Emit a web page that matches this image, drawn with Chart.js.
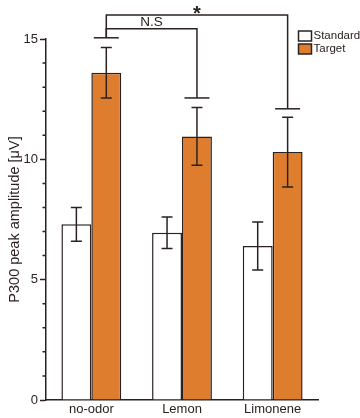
<!DOCTYPE html>
<html>
<head>
<meta charset="utf-8">
<script src="https://cdn.jsdelivr.net/npm/chart.js@4/dist/chart.umd.min.js"></script>
<style>
  html, body { margin: 0; padding: 0; background: #fff; }
  #wrap { width: 360px; height: 418px; }
</style>
</head>
<body>
<div id="wrap"><canvas id="p300Chart" width="360" height="418"></canvas></div>
<script>
// Data
const categories = ['no-odor', 'Lemon', 'Limonene'];
const standardMean = [7.3, 6.95, 6.4];
const standardErr = [0.7, 0.65, 1.0];
const targetMean = [13.6, 10.95, 10.3];
const targetErr = [1.05, 1.2, 1.45];

// significance brackets (target bars)
const capLevel = [15.05, 12.55, 12.1];
const bracketFrom = [0, 0];
const bracketTo = [1, 2];
const bracketTop = [15.43, 16.0];
const bracketLabels = ['N.S', '*'];

const yTicks = [0, 5, 10, 15];

const INK = '#2b2220';
const ORANGE = '#df7d2e';
const FONT = 'Liberation Sans, Arial, Helvetica, sans-serif';

// error bars, brackets, minor ticks, legend
const extrasPlugin = {
    id: 'extras',
    afterDatasetsDraw(chart) {
        const ctx = chart.ctx;
        const y = chart.scales.y;
        const errs = [standardErr, targetErr];
        const means = [standardMean, targetMean];

        ctx.save();
        ctx.strokeStyle = INK;
        ctx.lineWidth = 1.5;

        // error bars
        chart.data.datasets.forEach((ds, di) => {
            const meta = chart.getDatasetMeta(di);
            meta.data.forEach((bar, i) => {
                const top = y.getPixelForValue(means[di][i] + errs[di][i]);
                const bot = y.getPixelForValue(means[di][i] - errs[di][i]);
                ctx.beginPath();
                ctx.moveTo(bar.x, top); ctx.lineTo(bar.x, bot);
                ctx.moveTo(bar.x - 5.5, top); ctx.lineTo(bar.x + 5.5, top);
                ctx.moveTo(bar.x - 5.5, bot); ctx.lineTo(bar.x + 5.5, bot);
                ctx.stroke();
            });
        });

        // bracket caps above target bars
        const tMeta = chart.getDatasetMeta(1);
        tMeta.data.forEach((bar, i) => {
            const cy = y.getPixelForValue(capLevel[i]);
            ctx.beginPath();
            ctx.moveTo(bar.x - 12.5, cy); ctx.lineTo(bar.x + 12.5, cy);
            ctx.stroke();
        });

        // brackets
        ctx.fillStyle = INK;
        ctx.textAlign = 'center';
        bracketFrom.forEach((f, k) => {
            const x1 = tMeta.data[f].x;
            const x2 = tMeta.data[bracketTo[k]].x;
            const ty = y.getPixelForValue(bracketTop[k]);
            ctx.beginPath();
            ctx.moveTo(x1, y.getPixelForValue(capLevel[f]));
            ctx.lineTo(x1, ty);
            ctx.lineTo(x2, ty);
            ctx.lineTo(x2, y.getPixelForValue(capLevel[bracketTo[k]]));
            ctx.stroke();
            if (bracketLabels[k] === '*') {
                ctx.font = 'bold 20px ' + FONT;
                ctx.textBaseline = 'alphabetic';
                ctx.fillText('*', (x1 + x2) / 2, ty + 5);
            } else {
                ctx.font = '13.5px ' + FONT;
                ctx.textBaseline = 'middle';
                ctx.fillText(bracketLabels[k], (x1 + x2) / 2, ty - 6.5);
            }
        });

        // minor ticks on y axis
        const ax = chart.chartArea.left;
        ctx.beginPath();
        for (let v = 1; v < 15; v++) {
            if (v % 5 === 0) continue;
            const py = y.getPixelForValue(v);
            ctx.moveTo(ax - 3.5, py); ctx.lineTo(ax, py);
        }
        ctx.stroke();

        // legend
        const lx = 298.5;
        const rows = [[31, '#ffffff', chart.data.datasets[0].label],
                      [44, ORANGE, chart.data.datasets[1].label]];
        ctx.font = '11.5px ' + FONT;
        ctx.textAlign = 'left';
        ctx.textBaseline = 'middle';
        rows.forEach(r => {
            ctx.fillStyle = r[1];
            ctx.fillRect(lx, r[0], 13, 10);
            ctx.strokeRect(lx, r[0], 13, 10);
            ctx.fillStyle = INK;
            ctx.fillText(r[2], lx + 15, r[0] + 5);
        });
        ctx.restore();
    }
};

const ctx = document.getElementById('p300Chart');
new Chart(ctx, {
    type: 'bar',
    data: {
        labels: categories,
        datasets: [
            {
                label: 'Standard',
                data: standardMean,
                backgroundColor: '#ffffff',
                borderColor: INK,
                borderWidth: 1.5,
                borderSkipped: 'bottom'
            },
            {
                label: 'Target',
                data: targetMean,
                backgroundColor: ORANGE,
                borderColor: INK,
                borderWidth: 1.5,
                borderSkipped: 'bottom'
            }
        ]
    },
    options: {
        responsive: false,
        animation: false,
        layout: { padding: { top: 39, right: 42, left: 0, bottom: 0 } },
        categoryPercentage: 0.66,
        barPercentage: 1.0,
        plugins: {
            legend: { display: false },
            tooltip: { enabled: false }
        },
        scales: {
            x: {
                grid: { display: false, drawTicks: false },
                border: { display: true, color: INK, width: 1.5 },
                ticks: { color: INK, padding: 2, font: { family: FONT, size: 13 } },
                afterFit: s => { s.height = 18; }
            },
            y: {
                min: 0,
                max: 15,
                afterBuildTicks: s => { s.ticks = yTicks.map(v => ({ value: v })); },
                grid: {
                    drawOnChartArea: false,
                    drawTicks: true,
                    tickLength: 6,
                    tickColor: INK,
                    tickWidth: 1.5
                },
                border: { display: true, color: INK, width: 1.5 },
                ticks: { color: INK, padding: 2, font: { family: FONT, size: 13 } },
                title: {
                    display: true,
                    text: 'P300 peak amplitude [\u03bcV]',
                    color: INK,
                    font: { family: FONT, size: 14.5 },
                    padding: { top: 6, bottom: 0 }
                },
                afterFit: s => { s.width = 46; }
            }
        }
    },
    plugins: [extrasPlugin]
});
</script>
</body>
</html>
